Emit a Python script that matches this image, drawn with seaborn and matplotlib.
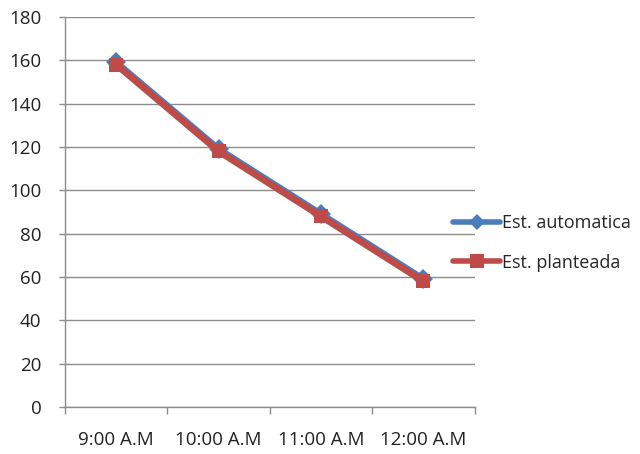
import matplotlib
matplotlib.use("Agg")
import matplotlib.pyplot as plt
import seaborn as sns
import pandas as pd
import numpy as np

horas = ["9:00 A.M", "10:00 A.M", "11:00 A.M", "12:00 A.M"]
est_automatica = [159, 119, 89, 59]
est_planteada = [158, 118, 88, 58]
series = ["Est. automatica", "Est. planteada"]

df = pd.DataFrame({
    "hora": horas * 2,
    "valor": est_automatica + est_planteada,
    "serie": [series[0]] * len(horas) + [series[1]] * len(horas),
})
df["pos"] = np.tile(np.arange(len(horas)), 2)

sns.set_style("white")
plt.rcParams["font.family"] = ["Open Sans", "DejaVu Sans"]

fig = plt.figure(figsize=(6.4, 4.54), dpi=100)
ax = fig.add_axes([0.1016, 0.1035, 0.640, 0.8591])

palette = {series[0]: "#4A7EBB", series[1]: "#BE4B48"}
markers = {series[0]: "D", series[1]: "s"}
sns.lineplot(data=df, x="pos", y="valor", hue="serie", style="serie",
             palette=palette, markers=markers, dashes=False,
             linewidth=4.8, markersize=10.5, markeredgewidth=0,
             ax=ax, legend=False, zorder=3)

ax.set_xlim(-0.5, len(horas) - 0.5)
ax.set_ylim(0, 180)
ax.set_yticks(np.arange(0, 181, 20))
ax.set_xticks(np.arange(-0.5, len(horas), 1.0))
ax.set_xticklabels([])
ax.set_xticks(np.arange(len(horas)), minor=True)
ax.set_xticklabels(horas, minor=True)
ax.set_xlabel("")
ax.set_ylabel("")

grid_c = "#8C8C8C"
ax.grid(axis="y", color=grid_c, linewidth=1.0)
ax.set_axisbelow(True)
for s in ["top", "right"]:
    ax.spines[s].set_visible(False)
for s in ["left", "bottom"]:
    ax.spines[s].set_color(grid_c)
    ax.spines[s].set_linewidth(1.0)

txt_c = "#222222"
ax.tick_params(axis="y", which="major", direction="out", length=4, width=1,
               color=grid_c, labelsize=13.5, labelcolor=txt_c, pad=13, left=True)
ax.tick_params(axis="x", which="major", direction="out", length=5, width=1,
               color=grid_c, bottom=True)
ax.tick_params(axis="x", which="minor", length=0, labelsize=13.5,
               labelcolor=txt_c, pad=17)

handles = [
    plt.Line2D([], [], color=palette[series[0]], lw=4, marker="D", markersize=8, markeredgewidth=0),
    plt.Line2D([], [], color=palette[series[1]], lw=4, marker="s", markersize=10, markeredgewidth=0),
]
fig.legend(handles, series, loc="center left", bbox_to_anchor=(0.708, 0.465),
           frameon=False, fontsize=13, handlelength=2.6, handletextpad=0.1,
           labelspacing=1.2, borderaxespad=0, borderpad=0)

fig.savefig("out.png", dpi=100, facecolor="white")
